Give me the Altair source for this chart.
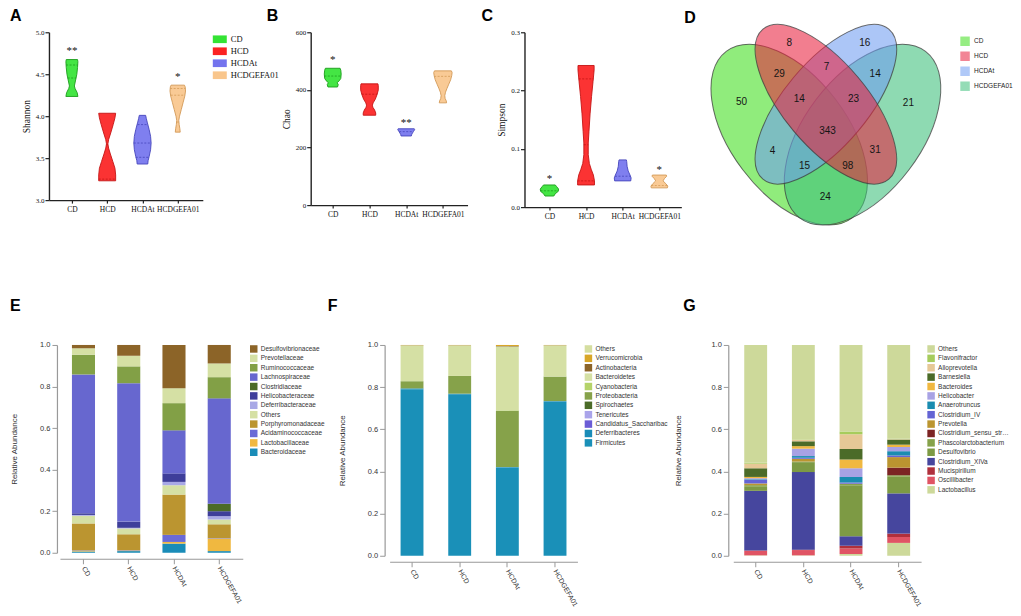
import json
import altair as alt
import pandas as pd

# ---------------- shared ----------------
groups = ["CD", "HCD", "HCDAt", "HCDGEFA01"]
violin_fill = ["#34e334", "#fb2222", "#7474ee", "#f9c68c"]
violin_edge = ["#1c9c1c", "#c41414", "#4646bc", "#d39a58"]

SERIF = "Liberation Serif"
SANS = "Liberation Sans"

# ---------------- A: Shannon (value, half width in group units) ----------------
shannon_levels = {
    "CD": [4.235, 4.28, 4.33, 4.36, 4.42, 4.50, 4.58, 4.65, 4.675],
    "HCD": [3.23, 3.30, 3.38, 3.46, 3.55, 3.62, 3.67, 3.72, 3.80, 3.90, 3.98, 4.035],
    "HCDAt": [3.43, 3.47, 3.52, 3.60, 3.68, 3.76, 3.84, 3.92, 3.97, 4.01],
    "HCDGEFA01": [3.81, 3.85, 3.90, 3.95, 4.00, 4.08, 4.16, 4.24, 4.30, 4.35, 4.37],
}
shannon_widths = {
    "CD": [0.17, 0.15, 0.09, 0.07, 0.10, 0.14, 0.16, 0.17, 0.16],
    "HCD": [0.24, 0.24, 0.22, 0.16, 0.09, 0.04, 0.02, 0.04, 0.10, 0.17, 0.22, 0.24],
    "HCDAt": [0.15, 0.16, 0.19, 0.23, 0.245, 0.23, 0.19, 0.14, 0.11, 0.09],
    "HCDGEFA01": [0.07, 0.06, 0.04, 0.03, 0.05, 0.10, 0.15, 0.20, 0.22, 0.21, 0.19],
}
shannon_line_values = {"CD": [4.455, 4.61], "HCD": [3.25, 3.66], "HCDAt": [3.51, 3.68, 3.90], "HCDGEFA01": [3.93, 4.25, 4.33]}
shannon_line_widths = {"CD": [0.12, 0.165], "HCD": [0.24, 0.02], "HCDAt": [0.19, 0.245, 0.14], "HCDGEFA01": [0.03, 0.20, 0.215]}
shannon_sig = {"CD": "**", "HCDGEFA01": "*"}
shannon_sig_y = {"CD": 4.78, "HCDGEFA01": 4.47}

# ---------------- B: Chao ----------------
chao_levels = {
    "CD": [410, 418, 425, 432, 440, 455, 468, 475],
    "HCD": [312, 320, 330, 340, 347, 355, 368, 385, 400, 415, 421],
    "HCDAt": [240, 245, 250, 256, 262, 265],
    "HCDGEFA01": [355, 362, 370, 380, 392, 405, 420, 435, 450, 460, 466],
}
chao_widths = {
    "CD": [0.13, 0.15, 0.12, 0.18, 0.22, 0.23, 0.22, 0.20],
    "HCD": [0.17, 0.17, 0.14, 0.09, 0.08, 0.10, 0.16, 0.21, 0.24, 0.24, 0.23],
    "HCDAt": [0.14, 0.15, 0.17, 0.20, 0.23, 0.22],
    "HCDGEFA01": [0.10, 0.09, 0.06, 0.05, 0.07, 0.11, 0.16, 0.21, 0.24, 0.25, 0.23],
}
chao_line_values = {"CD": [448], "HCD": [385], "HCDAt": [255], "HCDGEFA01": [447]}
chao_line_widths = {"CD": [0.23], "HCD": [0.21], "HCDAt": [0.19], "HCDGEFA01": [0.24]}
chao_sig = {"CD": "*", "HCDAt": "**"}
chao_sig_y = {"CD": 503, "HCDAt": 284}

# ---------------- C: Simpson ----------------
simpson_levels = {
    "CD": [0.019, 0.023, 0.027, 0.031, 0.035, 0.038],
    "HCD": [0.038, 0.045, 0.055, 0.065, 0.075, 0.09, 0.11, 0.13, 0.16, 0.19, 0.215, 0.235, 0.243],
    "HCDAt": [0.045, 0.05, 0.055, 0.062, 0.07, 0.078, 0.081],
    "HCDGEFA01": [0.033, 0.036, 0.04, 0.045, 0.049, 0.053, 0.055],
}
simpson_widths = {
    "CD": [0.12, 0.16, 0.24, 0.25, 0.20, 0.16],
    "HCD": [0.23, 0.23, 0.20, 0.14, 0.09, 0.06, 0.06, 0.08, 0.11, 0.15, 0.19, 0.22, 0.22],
    "HCDAt": [0.22, 0.23, 0.20, 0.15, 0.12, 0.11, 0.10],
    "HCDGEFA01": [0.22, 0.23, 0.18, 0.10, 0.14, 0.20, 0.19],
}
simpson_line_values = {"CD": [0.028], "HCD": [0.045, 0.107, 0.22], "HCDAt": [0.053], "HCDGEFA01": [0.037]}
simpson_line_widths = {"CD": [0.245], "HCD": [0.23, 0.06, 0.2], "HCDAt": [0.21], "HCDGEFA01": [0.22]}
simpson_sig = {"CD": "*", "HCDGEFA01": "*"}
simpson_sig_y = {"CD": 0.048, "HCDGEFA01": 0.064}

# ---------------- D: Venn ----------------
venn_sets = ["CD", "HCD", "HCDAt", "HCDGEFA01"]
venn_colors = ["#40de1e", "#e8203e", "#709cf2", "#3cc07a"]
venn_draw = ["CD", "HCDGEFA01", "HCDAt", "HCD"]
venn_cx = [-36.7, 36.7, 0.0, 0.0]
venn_cy = [-3.5, -3.5, 27.0, 27.0]
venn_a = [104.5, 104.5, 98.0, 98.0]
venn_b = [58.3, 58.3, 42.0, 42.0]
venn_angle = [52.9, 307.1, 310.0, 50.0]
venn_counts = [8, 16, 29, 7, 14, 50, 14, 23, 21, 343, 4, 31, 15, 98, 24]
venn_lx = [-36.7, 39.0, -46.7, 0.6, 49.3, -84.4, -26.7, 27.6, 82.6, 1.6, -53.4, 49.3, -21.4, 22.0, -0.7]
venn_ly = [88.0, 88.0, 57.7, 64.7, 57.7, 29.3, 32.0, 32.0, 28.7, -0.3, -19.7, -18.7, -34.7, -34.7, -65.7]

# ---------------- E: family ----------------
family_legend = ["Desulfovibrionaceae", "Prevotellaceae", "Ruminococcaceae", "Lachnospiraceae",
                 "Clostridiaceae", "Helicobacteraceae", "Deferribacteraceae", "Others",
                 "Porphyromonadaceae", "Acidaminococcaceae", "Lactobacillaceae", "Bacteroidaceae"]
family_colors = ["#8c6428", "#d5e0a4", "#82a046", "#6767cf", "#4b6b28", "#3e3e9a",
                 "#a8a8e6", "#d5e0a4", "#bb9530", "#6a6ad6", "#f0b840", "#1a8cb8"]
family_values = {
    "Bacteroidaceae": [0.006, 0.008, 0.044, 0.008],
    "Lactobacillaceae": [0.003, 0.002, 0.008, 0.060],
    "Acidaminococcaceae": [0.002, 0.002, 0.034, 0.002],
    "Porphyromonadaceae": [0.130, 0.077, 0.194, 0.067],
    "Others": [0.037, 0.028, 0.045, 0.023],
    "Deferribacteraceae": [0.004, 0.003, 0.016, 0.016],
    "Helicobacteraceae": [0.008, 0.030, 0.041, 0.024],
    "Clostridiaceae": [0.000, 0.000, 0.000, 0.036],
    "Lachnospiraceae": [0.668, 0.666, 0.207, 0.507],
    "Ruminococcaceae": [0.095, 0.081, 0.131, 0.102],
    "Prevotellaceae": [0.031, 0.051, 0.072, 0.066],
    "Desulfovibrionaceae": [0.016, 0.052, 0.208, 0.089],
}

# ---------------- F: phylum ----------------
phylum_legend = ["Others", "Verrucomicrobia", "Actinobacteria", "Bacteroidetes", "Cyanobacteria",
                 "Proteobacteria", "Spirochaetes", "Tenericutes", "Candidatus_Saccharibac",
                 "Deferribacteres", "Firmicutes"]
phylum_colors = ["#d5dea0", "#d8a628", "#8c6428", "#d5e0a4", "#b5d36a", "#86a24a",
                 "#4b6b28", "#aaa4ea", "#6a5cd6", "#1a8cb8", "#1a90b8"]
phylum_values = {
    "Firmicutes": [0.790, 0.766, 0.419, 0.731],
    "Deferribacteres": [0.004, 0.003, 0.002, 0.003],
    "Candidatus_Saccharibac": [0.0, 0.0, 0.0, 0.0],
    "Tenericutes": [0.0, 0.0, 0.0, 0.0],
    "Spirochaetes": [0.0, 0.0, 0.0, 0.0],
    "Proteobacteria": [0.034, 0.084, 0.267, 0.116],
    "Cyanobacteria": [0.0, 0.0, 0.002, 0.0],
    "Bacteroidetes": [0.170, 0.145, 0.303, 0.148],
    "Actinobacteria": [0.001, 0.001, 0.002, 0.001],
    "Verrucomicrobia": [0.001, 0.001, 0.005, 0.001],
    "Others": [0.0, 0.0, 0.0, 0.0],
}

# ---------------- G: genus ----------------
genus_legend = ["Others", "Flavonifractor", "Alloprevotella", "Barnesiella", "Bacteroides",
                "Helicobacter", "Anaerotruncus", "Clostridium_IV", "Prevotella",
                "Clostridium_sensu_stricto", "Phascolarctobacterium", "Desulfovibrio",
                "Clostridium_XIVa", "Mucispirillum", "Oscillibacter", "Lactobacillus"]
genus_colors = ["#cdd99a", "#a6cc5c", "#e6c896", "#4b6b28", "#f0b840", "#a8a2e4",
                "#1a8cb0", "#6464d4", "#bb9530", "#7c2424", "#86a24a", "#7d9a44",
                "#46469e", "#b0303c", "#e05464", "#cdd99a"]
genus_values = {
    "Lactobacillus": [0.002, 0.002, 0.008, 0.061],
    "Oscillibacter": [0.021, 0.025, 0.026, 0.028],
    "Mucispirillum": [0.002, 0.002, 0.013, 0.016],
    "Clostridium_XIVa": [0.283, 0.368, 0.045, 0.191],
    "Desulfovibrio": [0.019, 0.047, 0.243, 0.079],
    "Phascolarctobacterium": [0.008, 0.003, 0.005, 0.007],
    "Clostridium_sensu_stricto": [0.000, 0.000, 0.000, 0.036],
    "Prevotella": [0.008, 0.013, 0.002, 0.050],
    "Clostridium_IV": [0.017, 0.005, 0.005, 0.008],
    "Anaerotruncus": [0.003, 0.008, 0.027, 0.020],
    "Helicobacter": [0.005, 0.035, 0.041, 0.020],
    "Bacteroides": [0.006, 0.012, 0.042, 0.011],
    "Barnesiella": [0.041, 0.023, 0.050, 0.024],
    "Alloprevotella": [0.022, 0.007, 0.070, 0.002],
    "Flavonifractor": [0.004, 0.002, 0.013, 0.002],
    "Others": [0.559, 0.448, 0.410, 0.445],
}

LABEL_EXPR = json.dumps(groups) + "[datum.value - 1]"


def panel_title(letter, dx, offset):
    return alt.TitleParams(text=letter, anchor="start", frame="group", dx=dx, offset=offset,
                           fontSize=16, fontWeight="bold", font=SANS, color="black")


def spacer(w, h):
    return alt.Chart(pd.DataFrame({"s": [0]})).mark_point(opacity=0).encode(
        x=alt.X("s:Q", axis=None), y=alt.Y("s:Q", axis=None)
    ).properties(width=w, height=h)


def violin_panel(letter, dx, metric, levels, widths, lvals, lwidths, sig, sig_y,
                 y_domain, y_ticks, y_fmt, x_domain, width, height, legend):
    outline = []
    for gi, g in enumerate(groups, start=1):
        for v, w in zip(levels[g], widths[g]):
            outline.append({"group": g, "gi": gi, "v": v, "w": w})
    lines = []
    for gi, g in enumerate(groups, start=1):
        for v, w in zip(lvals[g], lwidths[g]):
            lines.append({"group": g, "gi": gi, "v": v, "w": w})
    stars = []
    for gi, g in enumerate(groups, start=1):
        if g in sig:
            stars.append({"group": g, "gi": gi, "v": sig_y[g], "w": 0.0, "t": sig[g]})

    xs = alt.Scale(domain=x_domain, nice=False, zero=False)
    ys = alt.Scale(domain=y_domain, nice=False, zero=False)
    xaxis = alt.Axis(values=[1, 2, 3, 4], labelExpr=LABEL_EXPR, title=None, grid=False,
                     labelFont=SERIF, labelFontSize=7.5, labelColor="#111", labelAngle=0,
                     labelPadding=2, tickSize=3, tickColor="#222", tickWidth=1.2,
                     domainColor="#222", domainWidth=1.4)
    yaxis = alt.Axis(values=y_ticks, format=y_fmt, title=metric, grid=False,
                     titleFont=SERIF, titleFontSize=9.5, titleFontWeight="normal",
                     titleColor="#111", titlePadding=4, labelFont=SERIF, labelFontSize=7,
                     labelColor="#111", labelPadding=1, tickSize=4, tickColor="#222",
                     tickWidth=1.2, domainColor="#222", domainWidth=1.4)
    fill_scale = alt.Scale(domain=groups, range=violin_fill)
    edge_scale = alt.Scale(domain=groups, range=violin_edge)

    area = alt.Chart(pd.DataFrame(outline)).transform_calculate(
        xl="datum.gi - datum.w", xr="datum.gi + datum.w"
    ).mark_area(orient="horizontal", strokeWidth=0.9, fillOpacity=0.92).encode(
        y=alt.Y("v:Q", scale=ys, axis=yaxis),
        x=alt.X("xl:Q", scale=xs, axis=xaxis, stack=None),
        x2="xr:Q",
        color=alt.Color("group:N", scale=fill_scale, legend=legend),
        stroke=alt.Stroke("group:N", scale=edge_scale, legend=None),
        detail="group:N",
    )
    rules = alt.Chart(pd.DataFrame(lines)).transform_calculate(
        xl="datum.gi - datum.w", xr="datum.gi + datum.w"
    ).mark_rule(strokeDash=[2, 1.5], strokeWidth=0.8).encode(
        y=alt.Y("v:Q", scale=ys, axis=yaxis),
        x=alt.X("xl:Q", scale=xs, axis=xaxis),
        x2="xr:Q",
        stroke=alt.Stroke("group:N", scale=edge_scale, legend=None),
    )
    txt = alt.Chart(pd.DataFrame(stars)).transform_calculate(
        xl="datum.gi"
    ).mark_text(font=SERIF, fontSize=11, color="#111", baseline="middle").encode(
        y=alt.Y("v:Q", scale=ys, axis=yaxis),
        x=alt.X("xl:Q", scale=xs, axis=xaxis),
        text="t:N",
    )
    return alt.layer(area, rules, txt).properties(
        width=width, height=height, title=panel_title(letter, dx, 4)
    )


def bar_panel(letter, dx, legend_order, colors, values, width, height, y_off,
              title_pad, pad_inner, pad_outer, label_limit, legend_offset):
    stack_order = list(values.keys())  # bottom -> top
    rows = []
    for t in stack_order:
        for i, g in enumerate(groups):
            rows.append({"group": g, "taxon": t, "value": values[t][i],
                         "ord": stack_order.index(t)})
    return alt.Chart(pd.DataFrame(rows)).mark_bar().encode(
        x=alt.X("group:N", sort=groups,
                scale=alt.Scale(paddingInner=pad_inner, paddingOuter=pad_outer),
                axis=alt.Axis(title=None, labelAngle=60, labelAlign="left",
                              labelBaseline="middle", labelFont=SANS, labelFontSize=7,
                              labelColor="#333", labelPadding=3, tickSize=5,
                              tickColor="#999", domainColor="#999", domainWidth=1.2,
                              offset=6)),
        y=alt.Y("value:Q", stack="zero", scale=alt.Scale(domain=[0, 1], nice=False),
                axis=alt.Axis(values=[0, 0.2, 0.4, 0.6, 0.8, 1.0], format=".1f",
                              title="Relative Abundance", titleFont=SANS, titleFontSize=8,
                              titleFontWeight="normal", titleColor="#333",
                              titlePadding=title_pad, labelFont=SANS, labelFontSize=7.5,
                              labelColor="#333", labelPadding=2, tickSize=5,
                              tickColor="#999", domainColor="#999", domainWidth=1.2,
                              grid=False, offset=y_off)),
        color=alt.Color("taxon:N", scale=alt.Scale(domain=legend_order, range=colors),
                        legend=alt.Legend(title=None, orient="right", offset=legend_offset,
                                          padding=0, symbolType="square", symbolSize=56,
                                          symbolStrokeWidth=0, labelFont=SANS,
                                          labelFontSize=6.5, labelColor="#333",
                                          rowPadding=1.4, labelLimit=label_limit,
                                          labelOffset=3)),
        order=alt.Order("ord:Q", sort="ascending"),
    ).properties(width=width, height=height, title=panel_title(letter, dx, 27))


# ---------------- build panels ----------------
legend_a = alt.Legend(title=None, orient="right", offset=10, padding=0,
                      symbolType="M-1,-0.55L1,-0.55L1,0.55L-1,0.55Z", symbolSize=196,
                      symbolStrokeWidth=0, labelFont=SERIF, labelFontSize=8.5,
                      labelColor="#111", rowPadding=0, labelOffset=4)

chart_a = violin_panel("A", -39, "Shannon", shannon_levels, shannon_widths,
                       shannon_line_values, shannon_line_widths, shannon_sig, shannon_sig_y,
                       [3.0, 5.0], [3.0, 3.5, 4.0, 4.5, 5.0], ".1f", [0.35, 4.71],
                       154, 168, legend_a)
chart_b = violin_panel("B", -44, "Chao", chao_levels, chao_widths,
                       chao_line_values, chao_line_widths, chao_sig, chao_sig_y,
                       [0, 600], [0, 200, 400, 600], "d", [0.40, 4.67],
                       157, 173, None)
chart_c = violin_panel("C", -43, "Simpson", simpson_levels, simpson_widths,
                       simpson_line_values, simpson_line_widths, simpson_sig, simpson_sig_y,
                       [0.0, 0.3], [0.0, 0.1, 0.2, 0.3], ".1f", [0.32, 4.60],
                       157, 175, None)

ell = pd.DataFrame({
    "set": venn_draw, "cx": venn_cx, "cy": venn_cy, "a": venn_a, "b": venn_b,
    "angle": venn_angle,
})
ell["path"] = [f"M-1,0A1,{b / a:.4f},0,1,1,1,0A1,{b / a:.4f},0,1,1,-1,0Z"
               for a, b in zip(ell["a"], ell["b"])]
ell["size"] = [(2 * a) ** 2 for a in ell["a"]]
vx = alt.Scale(domain=[-87.7, 112.3], nice=False, zero=False)
vy = alt.Scale(domain=[-73, 99], nice=False, zero=False)
ellipses = alt.Chart(ell).mark_point(filled=True, fillOpacity=0.58, stroke="#3c3c3c",
                                     strokeWidth=1, strokeOpacity=0.75).encode(
    x=alt.X("cx:Q", scale=vx, axis=None),
    y=alt.Y("cy:Q", scale=vy, axis=None),
    shape=alt.Shape("path:N", scale=None),
    size=alt.Size("size:Q", scale=None),
    angle=alt.Angle("angle:Q", scale=None),
    color=alt.Color("set:N", scale=alt.Scale(domain=venn_sets, range=venn_colors),
                    legend=alt.Legend(title=None, orient="none", legendX=222, legendY=4,
                                      padding=0, symbolType="square", symbolSize=90,
                                      symbolStrokeWidth=0, symbolOpacity=0.55,
                                      labelFont=SANS, labelFontSize=6.5,
                                      labelColor="#222", rowPadding=5, labelOffset=4)),
    order=alt.Order("ord:Q"),
).transform_window(ord="row_number()")
labels = alt.Chart(pd.DataFrame({"n": venn_counts, "lx": venn_lx, "ly": venn_ly})).mark_text(
    font=SANS, fontSize=10, color="#151515", baseline="middle"
).encode(
    x=alt.X("lx:Q", scale=vx, axis=None),
    y=alt.Y("ly:Q", scale=vy, axis=None),
    text="n:N",
)
chart_d = alt.layer(ellipses, labels).properties(width=200, height=172,
                                                 title=panel_title("D", -54, -4))

chart_e = bar_panel("E", -50, family_legend, family_colors, family_values,
                    183, 208, 3, 21, 0.49, 0.265, 120, 7)
chart_f = bar_panel("F", -62, phylum_legend, phylum_colors, phylum_values,
                    188, 211, 5, 21, 0.52, 0.23, 120, 7)
chart_g = bar_panel("G", -50, genus_legend, genus_colors, genus_values,
                    188, 211, 5, 28, 0.52, 0.23, 72, 6)

indep = dict(x="independent", y="independent", color="independent",
             stroke="independent", shape="independent", size="independent",
             angle="independent")

top = alt.hconcat(chart_a, spacer(108, 168), chart_b, spacer(57, 168), chart_c,
                  spacer(57, 168), chart_d, spacing=0,
                  bounds="flush").resolve_scale(**indep).resolve_legend(color="independent")
bottom = alt.hconcat(spacer(11, 208), chart_e, spacer(147, 208), chart_f,
                     spacer(156, 208), chart_g, spacing=0,
                     bounds="flush").resolve_scale(**indep).resolve_legend(color="independent")

chart = alt.vconcat(top, bottom, spacing=71).resolve_scale(
    **indep
).resolve_legend(color="independent").properties(
    padding={"left": 2, "top": 0, "right": 0, "bottom": 0}, background="white"
).configure_view(stroke=None)

chart.save("out.html", embed_options={"renderer": "svg", "actions": False})
